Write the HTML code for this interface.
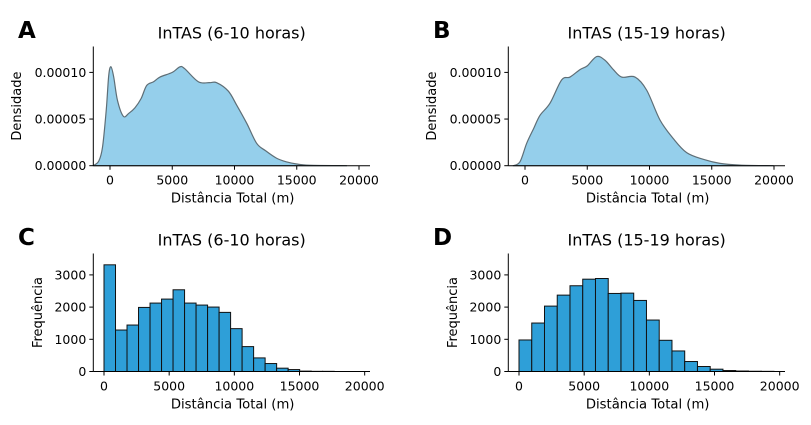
<!DOCTYPE html>
<html><head><meta charset="utf-8"><style>
body{margin:0;background:#fff;}
svg text{font-family:"DejaVu Sans","Liberation Sans",sans-serif;fill:#000;}
</style></head><body>
<svg id="fig" width="811" height="420" viewBox="0 0 811 420" xmlns="http://www.w3.org/2000/svg"></svg>
<script>
// ---- data ----
const densAx = [-1340,-900,-600,-300,-100,80,300,600,1070,1500,2000,2500,2945,3500,4015,5000,5620,6000,7094,8000,8566,9500,10172,11000,11779,12500,13385,14200,15000,16000,19000];
const densAy = [0,0.000005,0.00002,0.00006,0.000097,0.000106,0.000095,0.00007,0.000053,0.000056,0.000062,0.000072,0.000086,0.00009,0.000095,0.0001,0.000106,0.000104,0.00009,0.000089,0.000089,0.00008,0.000065,0.000045,0.000024,0.000016,0.000008,0.000004,0.0000018,0.0000005,0];
const densBx = [-937,-400,134,700,1205,2008,2945,3614,4417,5000,5755,6425,7094,7763,8834,9771,10842,11913,12984,14322,15660,17266,19943];
const densBy = [0,0.0000043,0.000024,0.00004,0.000054,0.000067,0.000092,0.000095,0.000103,0.000107,0.000117,0.000113,0.000103,0.000095,0.000095,0.000081,0.000049,0.000029,0.000014,0.0000068,0.0000025,0.0000007,0];
const histCbinW = 883;
const histC = [3313,1288,1443,1990,2125,2249,2538,2125,2063,2001,1836,1331,773,422,247,103,60,12,5,5];
const histDbinW = 978;
const histD = [979,1505,2031,2372,2663,2867,2888,2424,2434,2207,1598,969,638,310,155,72,30,15,8,5];
const xTicks = [0,5000,10000,15000,20000];
const densTicks = [0,0.00005,0.0001];
const densTickLabels = ["0.00000","0.00005","0.00010"];
const histTicks = [0,1000,2000,3000];

const NS="http://www.w3.org/2000/svg";
const svg=document.getElementById('fig');
function mk(tag,attrs,parent){const e=document.createElementNS(NS,tag);for(const k in attrs)e.setAttribute(k,attrs[k]);(parent||svg).appendChild(e);return e;}
function txt(s,attrs,parent){const e=mk('text',attrs,parent);e.textContent=s;return e;}
function smooth(pts){
  let d='';
  for(let i=0;i<pts.length-1;i++){
    const p0=pts[Math.max(0,i-1)],p1=pts[i],p2=pts[i+1],p3=pts[Math.min(pts.length-1,i+2)];
    const c1=[p1[0]+(p2[0]-p0[0])/6,p1[1]+(p2[1]-p0[1])/6];
    const c2=[p2[0]-(p3[0]-p1[0])/6,p2[1]-(p3[1]-p1[1])/6];
    d+=' C'+c1[0].toFixed(2)+','+c1[1].toFixed(2)+' '+c2[0].toFixed(2)+','+c2[1].toFixed(2)+' '+p2[0].toFixed(2)+','+p2[1].toFixed(2);
  }
  return d;
}

function panel(cfg){
  const g=mk('g',{});
  
  
  const X=v=>cfg.x0+(v/5000)*cfg.xs;
  const Y=v=>cfg.y0-v*cfg.ys;
  if(cfg.dx){
    const pts=cfg.dx.map((x,i)=>[X(x),Y(cfg.dy[i])]);
    let d='M'+pts[0][0]+','+pts[0][1]+smooth(pts)+'Z';
    const p=mk('path',{d:d,fill:'#95cfeb',stroke:'#5e6e76','stroke-width':1.2,'stroke-linejoin':'round'},g);
    
    
  } else {
    cfg.h.forEach((v,i)=>{
      const x1=X(i*cfg.bw),x2=X((i+1)*cfg.bw);
      const r=mk('rect',{x:x1,y:Y(v),width:x2-x1,height:Y(0)-Y(v),fill:'#2e9fd8',stroke:'#111','stroke-width':1},g);
      
      
    });
  }
  mk('line',{x1:cfg.sx,y1:cfg.top,x2:cfg.sx,y2:cfg.y0,stroke:'#000','stroke-width':1},g);
  mk('line',{x1:cfg.sx,y1:cfg.y0,x2:cfg.ex,y2:cfg.y0,stroke:'#000','stroke-width':1},g);
  xTicks.forEach(t=>{
    mk('line',{x1:X(t),y1:cfg.y0,x2:X(t),y2:cfg.y0+4,stroke:'#000'},g);
    const tl=txt(String(t),{x:X(t),y:cfg.y0+19,'font-size':12.5,'text-anchor':'middle'},g);
    
    
  });
  cfg.yt.forEach((t,i)=>{
    mk('line',{x1:cfg.sx-4,y1:Y(t),x2:cfg.sx,y2:Y(t),stroke:'#000'},g);
    const tl=txt(cfg.ytl[i],{x:cfg.sx-7,y:Y(t)+4.5,'font-size':12.5,'text-anchor':'end'},g);
    
    
  });
  const xt=txt('Distância Total (m)',{x:(cfg.sx+cfg.ex)/2+1,y:cfg.y0+37,'font-size':13.2,'text-anchor':'middle'},g);
  
  
  const yx=cfg.ylx, yy=(cfg.top+cfg.y0)/2;
  const yt=txt(cfg.ylabel,{x:yx,y:yy,'font-size':13,'text-anchor':'middle',transform:'rotate(-90 '+yx+' '+yy+')'},g);
  
  
  const tt=txt(cfg.title,{x:(cfg.sx+cfg.ex)/2,y:cfg.top-8,'font-size':16,'text-anchor':'middle'},g);
  
  
  const lt=txt(cfg.letter,{x:cfg.lx,y:cfg.ly,'font-size':23,'font-weight':'bold'},g);
  
  
}
panel({name:'panel-a',dx:densAx,dy:densAy,x0:110,xs:62.25,y0:165.7,ys:933000,top:46.5,sx:93.3,ex:370,yt:densTicks,ytl:densTickLabels,ylabel:'Densidade',ylx:21,title:'InTAS (6-10 horas)',letter:'A',lx:18,ly:38});
panel({name:'panel-b',dx:densBx,dy:densBy,x0:525,xs:62.25,y0:165.7,ys:933000,top:46.5,sx:508.3,ex:785,yt:densTicks,ytl:densTickLabels,ylabel:'Densidade',ylx:436,title:'InTAS (15-19 horas)',letter:'B',lx:433,ly:38});
panel({name:'panel-c',h:histC,bw:histCbinW,x0:104,xs:65.17,y0:371.5,ys:0.0322,top:253.5,sx:93.3,ex:370,yt:histTicks,ytl:histTicks.map(String),ylabel:'Frequência',ylx:42,title:'InTAS (6-10 horas)',letter:'C',lx:18,ly:245});
panel({name:'panel-d',h:histD,bw:histDbinW,x0:519,xs:65.17,y0:371.5,ys:0.0322,top:253.5,sx:508.3,ex:785,yt:histTicks,ytl:histTicks.map(String),ylabel:'Frequência',ylx:457,title:'InTAS (15-19 horas)',letter:'D',lx:433,ly:245});
</script>
</body></html>
